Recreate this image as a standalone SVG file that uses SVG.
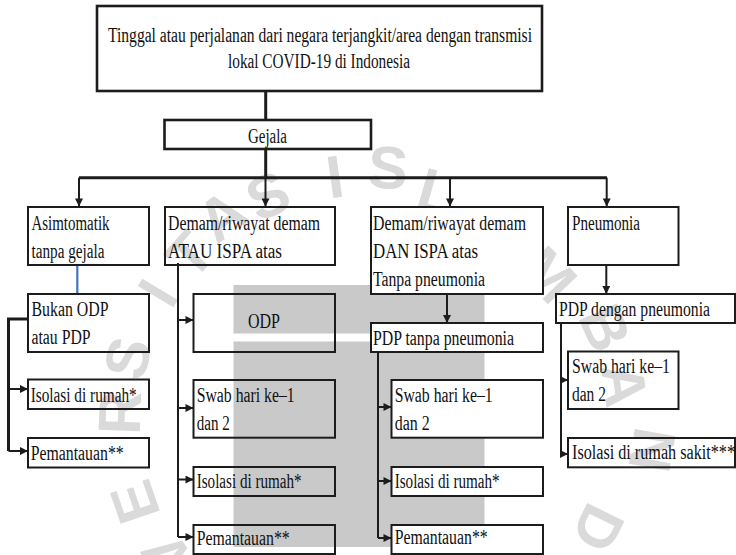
<svg xmlns="http://www.w3.org/2000/svg" width="736" height="555" viewBox="0 0 736 555">
<defs>
<style>
.box{fill:none;stroke:#1c1c1c;stroke-width:2}
.wbox{fill:#fff;stroke:#1c1c1c;stroke-width:2}
.tbox{fill:#fff;stroke:#1c1c1c;stroke-width:2.6}
.t{font-family:'Liberation Serif','Times New Roman',serif;font-size:20px;fill:#111}
.wm{font-family:'Liberation Sans',Arial,sans-serif;font-weight:bold;font-size:60px;fill:#dadada;text-anchor:middle;dominant-baseline:central}
.c3{fill:none;stroke:#1c1c1c;stroke-width:3}
.c2{fill:none;stroke:#1c1c1c;stroke-width:2}
.a{fill:none;stroke:#1c1c1c;stroke-width:2;marker-end:url(#ah)}
</style>
<marker id="ah" viewBox="0 0 10 10" refX="10" refY="5" markerWidth="9" markerHeight="8" markerUnits="userSpaceOnUse" orient="auto">
<path d="M0,0 L10,5 L0,10 z" fill="#1c1c1c"/>
</marker>
</defs>
<rect width="736" height="555" fill="#fff"/>
<g id="watermark">
<text class="wm" transform="translate(168,556) rotate(235)">V</text>
<text class="wm" transform="translate(135,502) rotate(251)">E</text>
<text class="wm" transform="translate(120,413) rotate(272)">R</text>
<text class="wm" transform="translate(128,358) rotate(284)">S</text>
<text class="wm" transform="translate(158,293) rotate(301)">I</text>
<text class="wm" transform="translate(190,255) rotate(312)">T</text>
<text class="wm" transform="translate(222,216) rotate(324)">A</text>
<text class="wm" transform="translate(268,196) rotate(335)">S</text>
<text class="wm" transform="translate(335,177) rotate(352)">I</text>
<text class="wm" transform="translate(388,168) rotate(4)">S</text>
<text class="wm" transform="translate(437,192) rotate(16)">L</text>
<text class="wm" transform="translate(487,230) rotate(30)">A</text>
<text class="wm" transform="translate(548,275) rotate(46)">M</text>
<text class="wm" transform="translate(605,328) rotate(66)">B</text>
<text class="wm" transform="translate(624,385) rotate(82)">A</text>
<text class="wm" transform="translate(652,450) rotate(100)">N</text>
<text class="wm" transform="translate(598,528) rotate(116)">D</text>
</g>
<g id="shade">
<rect x="233.5" y="285" width="251" height="48.5" fill="#c9c9c9"/>
<rect x="233.5" y="341.5" width="251" height="205.5" fill="#c9c9c9"/>
</g>
<g id="connectors">
<line class="c3" x1="265.7" y1="91" x2="265.7" y2="120"/>
<line class="c3" x1="265.7" y1="149" x2="265.7" y2="177.7"/>
<line class="c3" x1="79" y1="177.7" x2="607" y2="177.7"/>
<path class="a" d="M79,177.7 V206.5"/>
<path class="a" d="M265.5,177.7 V206.5"/>
<path class="a" d="M450,177.7 V206.5"/>
<path class="a" d="M606.7,177.7 V206.5"/>
<line x1="77.3" y1="265" x2="77.3" y2="294" stroke="#4472c4" stroke-width="2.2"/>
<path class="c3" d="M28,319 H8.5 V451"/>
<path class="a" d="M8.5,389 H28"/>
<path class="a" d="M8.5,451 H28"/>
<path class="c2" d="M178,263 V537"/>
<path class="a" d="M178,320 H193.5"/>
<path class="a" d="M178,408 H193.5"/>
<path class="a" d="M178,479.5 H193.5"/>
<path class="a" d="M178,537 H193.5"/>
<path class="a" d="M447,294 V323" stroke-width="2.6"/>
<path class="c2" d="M378,351 V538"/>
<path class="a" d="M378,407 H391.5"/>
<path class="a" d="M378,481 H391.5"/>
<path class="a" d="M378,538 H391.5"/>
<path class="a" d="M606.3,265 V294" stroke-width="2.6"/>
<path class="c2" d="M561,323 V454"/>
<path class="a" d="M561,380 H568"/>
<path class="a" d="M561,454 H568"/>
</g>
<g id="n-top">
<rect class="tbox" x="97" y="6" width="445" height="85"/>
<text class="t" x="108" y="41.5" textLength="424" lengthAdjust="spacingAndGlyphs">Tinggal atau perjalanan dari negara terjangkit/area dengan transmisi</text>
<text class="t" x="228" y="68" textLength="182" lengthAdjust="spacingAndGlyphs">lokal COVID-19 di Indonesia</text>
</g>
<g id="n-gejala">
<rect class="tbox" x="164.5" y="120" width="206.5" height="29"/>
<text class="t" x="248" y="142.5" textLength="39" lengthAdjust="spacingAndGlyphs">Gejala</text>
</g>
<g id="n-asim">
<rect class="box" x="28" y="207" width="121" height="58"/>
<text class="t" x="31.5" y="230" textLength="78" lengthAdjust="spacingAndGlyphs">Asimtomatik</text>
<text class="t" x="31.5" y="257.5" textLength="73" lengthAdjust="spacingAndGlyphs">tanpa gejala</text>
</g>
<g id="n-bukan">
<rect class="box" x="28" y="294" width="121" height="58"/>
<text class="t" x="31.5" y="316" textLength="77" lengthAdjust="spacingAndGlyphs">Bukan ODP</text>
<text class="t" x="31.5" y="344" textLength="59" lengthAdjust="spacingAndGlyphs">atau PDP</text>
</g>
<g id="n-iso1">
<rect class="box" x="28" y="379.5" width="121" height="29.5"/>
<text class="t" x="30.7" y="402" textLength="106" lengthAdjust="spacingAndGlyphs">Isolasi di rumah*</text>
</g>
<g id="n-pem1">
<rect class="box" x="28" y="438" width="121" height="29.5"/>
<text class="t" x="30.7" y="459.5" textLength="93" lengthAdjust="spacingAndGlyphs">Pemantauan**</text>
</g>
<g id="n-atau">
<rect class="box" x="165" y="207" width="170" height="58"/>
<text class="t" x="168" y="230" textLength="152" lengthAdjust="spacingAndGlyphs">Demam/riwayat demam</text>
<text class="t" x="168" y="257.5" textLength="114" lengthAdjust="spacingAndGlyphs">ATAU ISPA atas</text>
</g>
<g id="n-odp">
<rect class="box" x="193.5" y="294" width="141.5" height="58"/>
<text class="t" x="248" y="328.3" textLength="32" lengthAdjust="spacingAndGlyphs">ODP</text>
</g>
<g id="n-swab2">
<rect class="box" x="193.5" y="380" width="141.5" height="57.7"/>
<text class="t" x="196.7" y="402" textLength="98" lengthAdjust="spacingAndGlyphs">Swab hari ke–1</text>
<text class="t" x="196.7" y="430" textLength="33" lengthAdjust="spacingAndGlyphs">dan 2</text>
</g>
<g id="n-iso2">
<rect class="box" x="193.5" y="467" width="141.5" height="29"/>
<text class="t" x="196.7" y="488" textLength="105" lengthAdjust="spacingAndGlyphs">Isolasi di rumah*</text>
</g>
<g id="n-pem2">
<rect class="box" x="193.5" y="525" width="141.5" height="29"/>
<text class="t" x="196.7" y="544.5" textLength="93" lengthAdjust="spacingAndGlyphs">Pemantauan**</text>
</g>
<g id="n-dan">
<rect class="wbox" x="371" y="207" width="172" height="87"/>
<text class="t" x="373" y="230" textLength="153" lengthAdjust="spacingAndGlyphs">Demam/riwayat demam</text>
<text class="t" x="373" y="258" textLength="105" lengthAdjust="spacingAndGlyphs">DAN ISPA atas</text>
<text class="t" x="373" y="286" textLength="112" lengthAdjust="spacingAndGlyphs">Tanpa pneumonia</text>
</g>
<g id="n-pdptanpa">
<rect class="wbox" x="371" y="323" width="172" height="29"/>
<text class="t" x="373" y="344.5" textLength="141" lengthAdjust="spacingAndGlyphs">PDP tanpa pneumonia</text>
</g>
<g id="n-swab3">
<rect class="wbox" x="391.5" y="380" width="151.5" height="57.7"/>
<text class="t" x="394.7" y="402" textLength="98" lengthAdjust="spacingAndGlyphs">Swab hari ke–1</text>
<text class="t" x="394.7" y="430" textLength="35" lengthAdjust="spacingAndGlyphs">dan 2</text>
</g>
<g id="n-iso3">
<rect class="wbox" x="391.5" y="467" width="151.5" height="29"/>
<text class="t" x="394.7" y="488" textLength="105" lengthAdjust="spacingAndGlyphs">Isolasi di rumah*</text>
</g>
<g id="n-pem3">
<rect class="wbox" x="391.5" y="525" width="151.5" height="29"/>
<text class="t" x="394.7" y="544" textLength="93" lengthAdjust="spacingAndGlyphs">Pemantauan**</text>
</g>
<g id="n-pneu">
<rect class="box" x="568" y="207" width="110.5" height="58"/>
<text class="t" x="572" y="230" textLength="68" lengthAdjust="spacingAndGlyphs">Pneumonia</text>
</g>
<g id="n-pdpdengan">
<rect class="box" x="556" y="294" width="179" height="29"/>
<text class="t" x="559" y="316" textLength="151" lengthAdjust="spacingAndGlyphs">PDP dengan pneumonia</text>
</g>
<g id="n-swab4">
<rect class="box" x="568" y="351.5" width="110.5" height="57.5"/>
<text class="t" x="572" y="373" textLength="98" lengthAdjust="spacingAndGlyphs">Swab hari ke–1</text>
<text class="t" x="572" y="401" textLength="34" lengthAdjust="spacingAndGlyphs">dan 2</text>
</g>
<g id="n-iso4">
<rect class="box" x="568" y="438" width="167" height="29.3"/>
<text class="t" x="572" y="459" textLength="163" lengthAdjust="spacingAndGlyphs">Isolasi di rumah sakit***</text>
</g>
</svg>
